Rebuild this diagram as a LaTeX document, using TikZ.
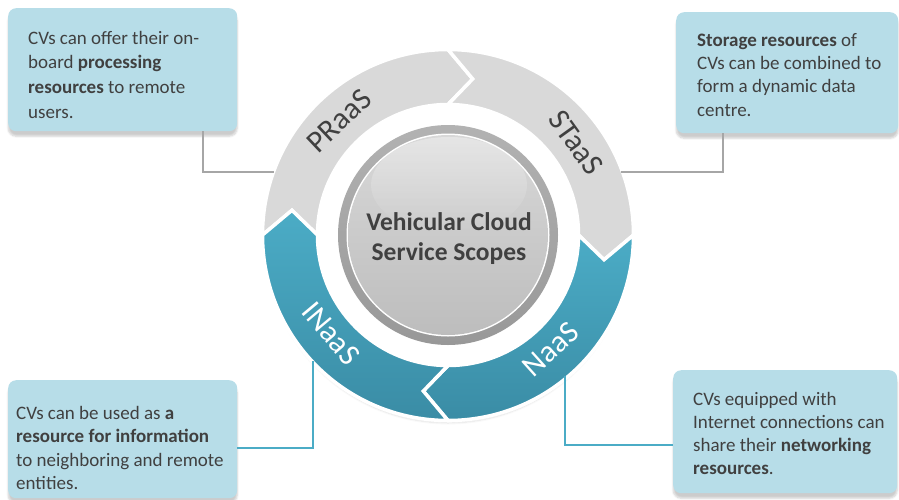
\documentclass[tikz,border=0pt]{standalone}
\usepackage{fontspec}
\setmainfont{Carlito}
\usetikzlibrary{shadows.blur,fadings}
\definecolor{boxfill}{HTML}{B7DDE8}
\definecolor{txt}{HTML}{404040}
\definecolor{ringgrey}{HTML}{D9D9D9}
\definecolor{blueA}{HTML}{4BACC6}
\definecolor{blueB}{HTML}{3A8CA5}
\definecolor{conngrey}{HTML}{A6A6A6}
\definecolor{connblue}{HTML}{4BACC6}
\definecolor{bandA}{HTML}{B2B2B2}
\definecolor{bandB}{HTML}{989898}
\definecolor{diskA}{HTML}{D8D8D8}
\definecolor{diskB}{HTML}{BDBDBD}
\begin{document}
\begin{tikzpicture}[x=1pt,y=1pt,
  box/.style={fill=boxfill, rounded corners=8pt, draw=none, inner sep=0pt, anchor=north west,
    blur shadow={shadow xshift=0pt, shadow yshift=-5pt, shadow opacity=20, shadow blur steps=6}},
  boxtext/.style={anchor=north west, inner sep=0pt, align=left, text=txt},
  ringtext/.style={font=\fontsize{31}{33}\selectfont, inner sep=0pt},
  segline/.style={draw=white, line width=3.5pt, line join=miter},
  greyseg/.style={segline, fill=ringgrey},
  blueseg/.style={segline, top color=blueA, bottom color=blueB},
  conng/.style={draw=conngrey, line width=1.5pt},
  connb/.style={draw=connblue, line width=2pt},
]
\useasboundingbox (0,0) rectangle (899,-499);

% ---- boxes
\node[box, minimum width=229, minimum height=123] (b1) at (8,-8) {};
\node[box, minimum width=222, minimum height=121] (b2) at (676,-12) {};
\node[box, minimum width=229, minimum height=118] (b3) at (8,-380) {};
\node[box, minimum width=224, minimum height=123] (b4) at (673,-370) {};

\node[boxtext, font=\fontsize{19}{24.6}\selectfont] (t1) at (28,-26.8)
  {\strut CVs can offer their on-\\board \textbf{processing}\\\textbf{resources} to remote\\users.};
\node[boxtext, font=\fontsize{19}{23.4}\selectfont] (t2) at (697,-29.6)
  {\strut\textbf{Storage resources} of\\CVs can be combined to\\form a dynamic data\\centre.};
\node[boxtext, font=\fontsize{19}{23.5}\selectfont] (t3) at (16,-402.6)
  {\strut CVs can be used as \textbf{a}\\\textbf{resource for information}\\to neighboring and remote\\entities.};
\node[boxtext, font=\fontsize{19}{23}\selectfont] (t4) at (693,-388.9)
  {\strut CVs equipped with\\Internet connections can\\share their \textbf{networking}\\\textbf{resources}.};

% ---- ring
\coordinate (C) at (448,-235);
\begin{scope}[shift={(C)}]
\def\Ro{185.5}\def\Ri{130.5}\def\Rm{158}
\fill[white, blur shadow={shadow xshift=0pt, shadow yshift=-5pt, shadow opacity=12, shadow blur steps=8}] (0,0) circle (183);
\path[greyseg] (180:\Ro) arc[start angle=180,end angle=90,radius=\Ro] -- (81:\Rm) -- (90:\Ri)
  arc[start angle=90,end angle=180,radius=\Ri] -- (171:\Rm) -- cycle;
\path[greyseg] (90:\Ro) arc[start angle=90,end angle=0,radius=\Ro] -- (-9:\Rm) -- (0:\Ri)
  arc[start angle=0,end angle=90,radius=\Ri] -- (81:\Rm) -- cycle;
\path[blueseg] (0:\Ro) arc[start angle=0,end angle=-90,radius=\Ro] -- (-99:\Rm) -- (-90:\Ri)
  arc[start angle=-90,end angle=0,radius=\Ri] -- (-9:\Rm) -- cycle;
\path[blueseg] (-90:\Ro) arc[start angle=-90,end angle=-180,radius=\Ro] -- (-189:\Rm) -- (-180:\Ri)
  arc[start angle=-180,end angle=-90,radius=\Ri] -- (-99:\Rm) -- cycle;

\node[ringtext, text=txt, rotate=43.5] (praas) at (133.6:158) {PRaaS};
\node[ringtext, text=txt, rotate=-54.3] (staas) at (35.7:158) {STaaS};
\node[ringtext, text=white, rotate=42] (naas) at (-48:154) {NaaS};
\node[ringtext, text=white, rotate=-50] (inaas) at (-140:153) {INaaS};

% ---- centre disk
\shade[top color=bandA, bottom color=bandB] (0,0) circle (110);
\fill[white] (0,0) circle (101.5);
\shade[top color=diskA, bottom color=diskB] (0,0) circle (100);
\fill[white, fill opacity=0.35, path fading=south] (1,50) ellipse (78 and 48);
\end{scope}

\node[font=\bfseries\fontsize{25.5}{30}\selectfont, text=txt, align=center, inner sep=0pt] (title)
  at (449,-238.5) {Vehicular Cloud\\Service Scopes};

% ---- connectors
\coordinate (k1) at (203,-172); \coordinate (r1) at (274,-172);
\coordinate (k2) at (723,-172); \coordinate (r2) at (621,-172);
\coordinate (k3) at (313,-448); \coordinate (r3) at (313,-361);
\coordinate (k4) at (565,-445); \coordinate (r4) at (565,-376);
\draw[conng] (b1.south -| k1) -- (k1) -- (r1);
\draw[conng] (b2.south -| k2) -- (k2) -- (r2);
\draw[connb] (b3.east |- k3) -- (k3) -- (r3);
\draw[connb] (b4.west |- k4) -- (k4) -- (r4);
\end{tikzpicture}
\end{document}
